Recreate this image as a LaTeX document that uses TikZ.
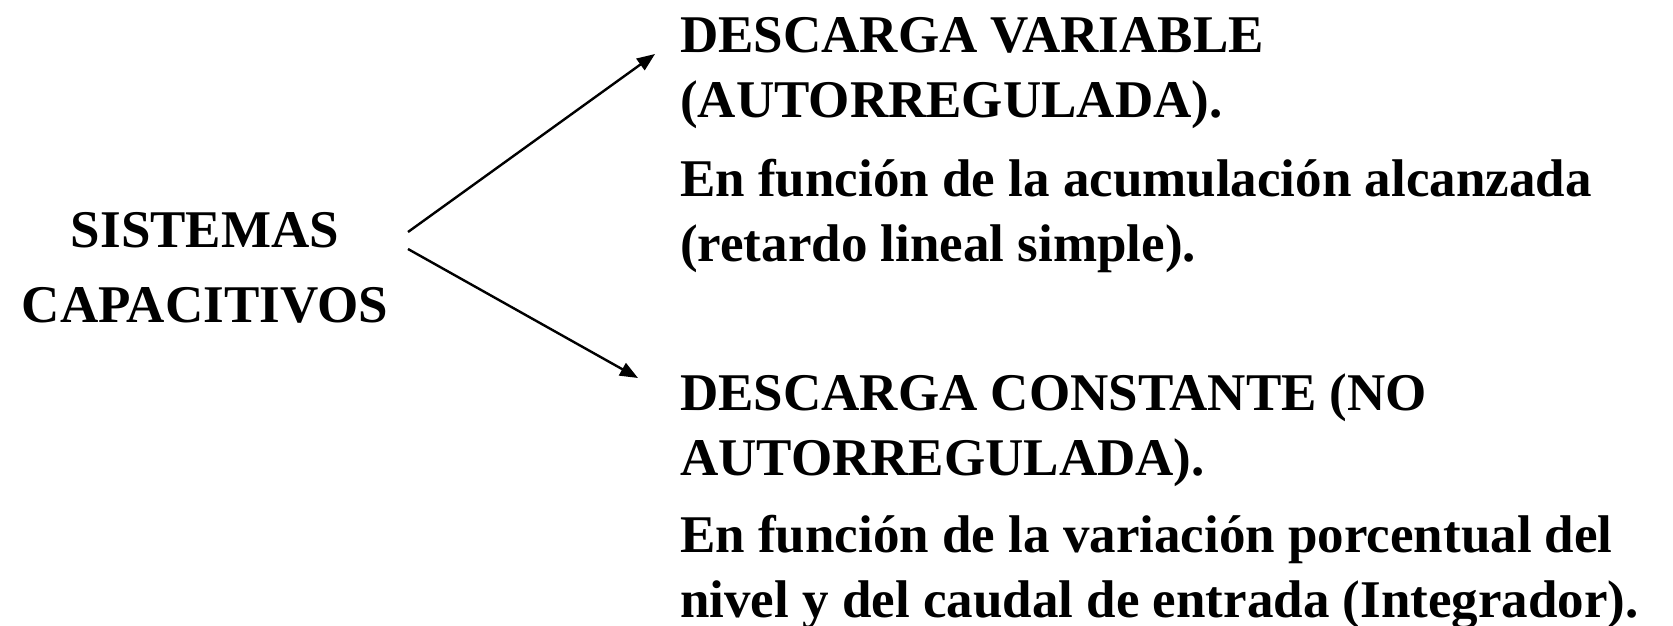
\documentclass[tikz,border=0pt]{standalone}
\usepackage{fontspec}
\setmainfont{Liberation Serif}
\usetikzlibrary{arrows.meta}

\tikzset{
  txt/.style={inner sep=0pt, anchor=base west, align=left,
    font=\bfseries\fontsize{53}{65}\selectfont},
  sis/.style={inner sep=0pt, anchor=base, align=center,
    font=\bfseries\fontsize{53}{75}\selectfont},
}

\begin{document}
\begin{tikzpicture}[x=1pt, y=-1pt, >={Triangle[length=18pt, width=14pt]}, line width=2.4pt]
    \useasboundingbox (0,0) rectangle (1673,626);
    % Left title (base = last line)
    \node[sis] (sistemas) at (205,322) {SISTEMAS\\CAPACITIVOS};
    % Branch texts
    \node[txt] (varA) at (679,117) {DESCARGA VARIABLE\\(AUTORREGULADA).};
    \node[txt] (varB) at (679,261) {En función de la acumulación alcanzada\\(retardo lineal simple).};
    \node[txt] (conA) at (679,475) {DESCARGA CONSTANTE (NO\\AUTORREGULADA).};
    \node[txt] (conB) at (679,617) {En función de la variación porcentual del\\nivel y del caudal de entrada (Integrador).};
    % Arrows
    \coordinate (up) at (408,232);
    \coordinate (down) at (408,249);
    \coordinate (tipA) at (655,54);
    \coordinate (tipB) at (638,378);
    \draw[->] (up) -- (tipA);
    \draw[->] (down) -- (tipB);
\end{tikzpicture}
\end{document}
